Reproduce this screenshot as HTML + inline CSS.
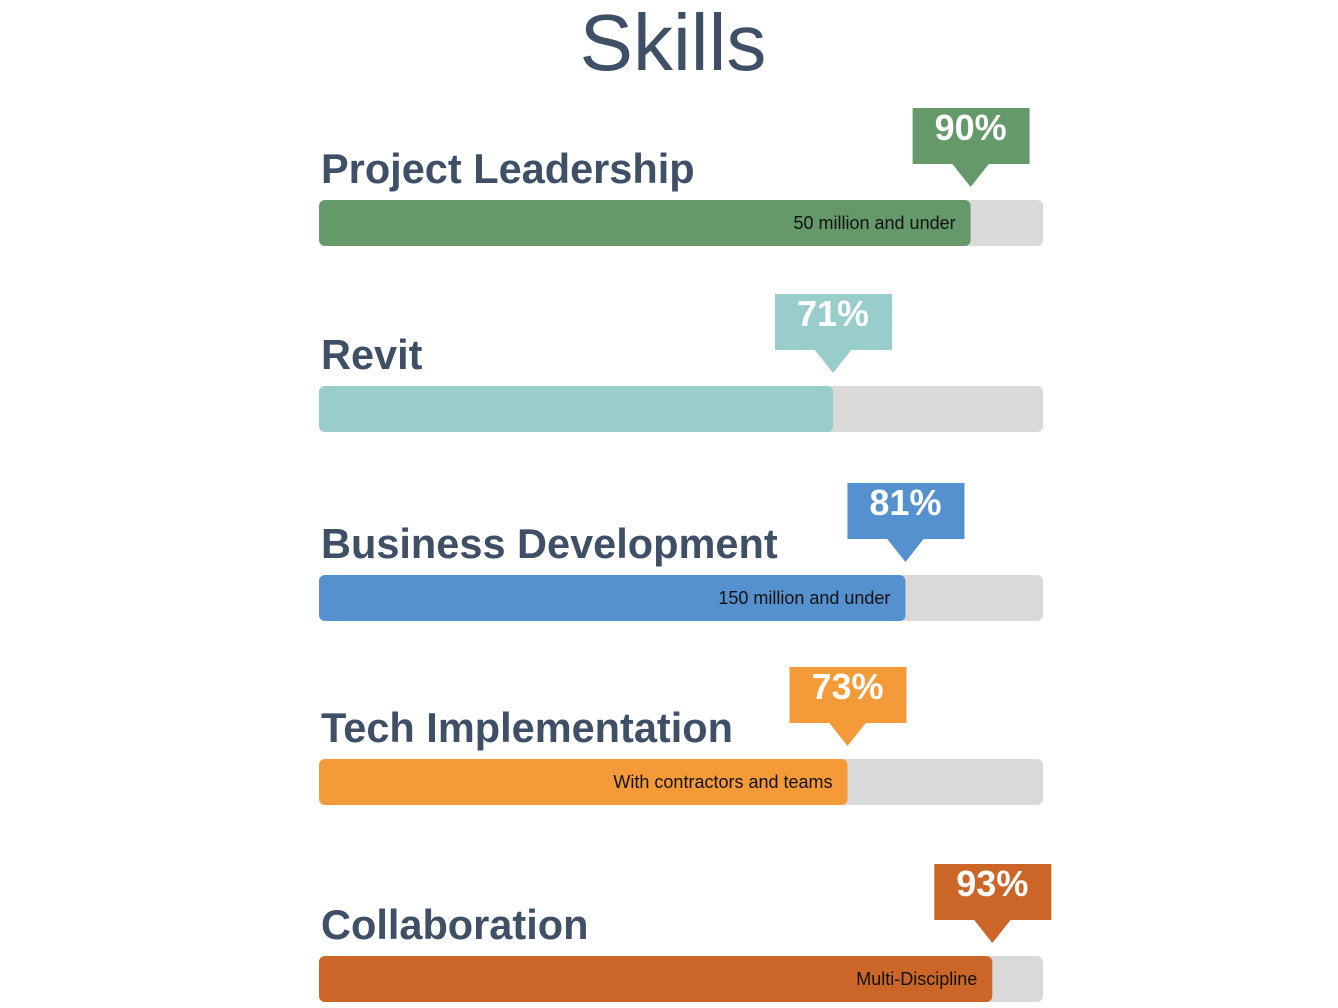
<!DOCTYPE html>
<html><head><meta charset="utf-8"><style>
body{margin:0;width:1338px;height:1003px;background:#fff;overflow:hidden;font-family:"Liberation Sans",sans-serif;}
</style></head><body>
<svg width="1338" height="1003">
<text x="673" y="70" text-anchor="middle" font-size="80" fill="#3f4f66">Skills</text>
<g id="rows"></g>
</svg>
<script>
const categories=["Project Leadership","Revit","Business Development","Tech Implementation","Collaboration"];
const values=[90,71,81,73,93];
const notes=["50 million and under","","150 million and under","With contractors and teams","Multi-Discipline"];
const colors=["#66996a","#99cdcc","#5591ce","#f59a38","#cc6628"];
const barTops=[200,386,575,759,956];
const x0=319,W=724,H=46;
function xs(v){return x0+W*v/100;}
const ns="http://www.w3.org/2000/svg";
const g=document.getElementById('rows');
function mk(t,a){const e=document.createElementNS(ns,t);for(const k in a)e.setAttribute(k,a[k]);g.appendChild(e);return e;}
categories.forEach((c,i)=>{
 const y=barTops[i],xe=xs(values[i]);
 let t=mk('text',{x:321,y:y-17,'font-size':41.5,'font-weight':'bold',fill:'#3f4f66'});t.textContent=c;
 
 
 let bg=mk('rect',{x:x0,y:y,width:W,height:H,rx:6,fill:'#d9d9d9'});
 
 
 let f=mk('rect',{x:x0,y:y,width:xe-x0,height:H,rx:6,fill:colors[i]});
 
 
 if(notes[i]){let n=mk('text',{x:xe-15,y:y+29,'font-size':18,'text-anchor':'end',fill:'#111'});n.textContent=notes[i];
 
 }
 let b=mk('rect',{x:xe-58,y:y-92,width:117,height:56,fill:colors[i]});
 
 
 let p=mk('polygon',{points:`${xe-19},${y-37} ${xe+19},${y-37} ${xe},${y-13}`,fill:colors[i]});
 
 
 let v=mk('text',{x:xe,y:y-60,'font-size':36,'font-weight':'bold','text-anchor':'middle',fill:'#fff'});v.textContent=values[i]+'%';
 
 
});
</script>
</body></html>
